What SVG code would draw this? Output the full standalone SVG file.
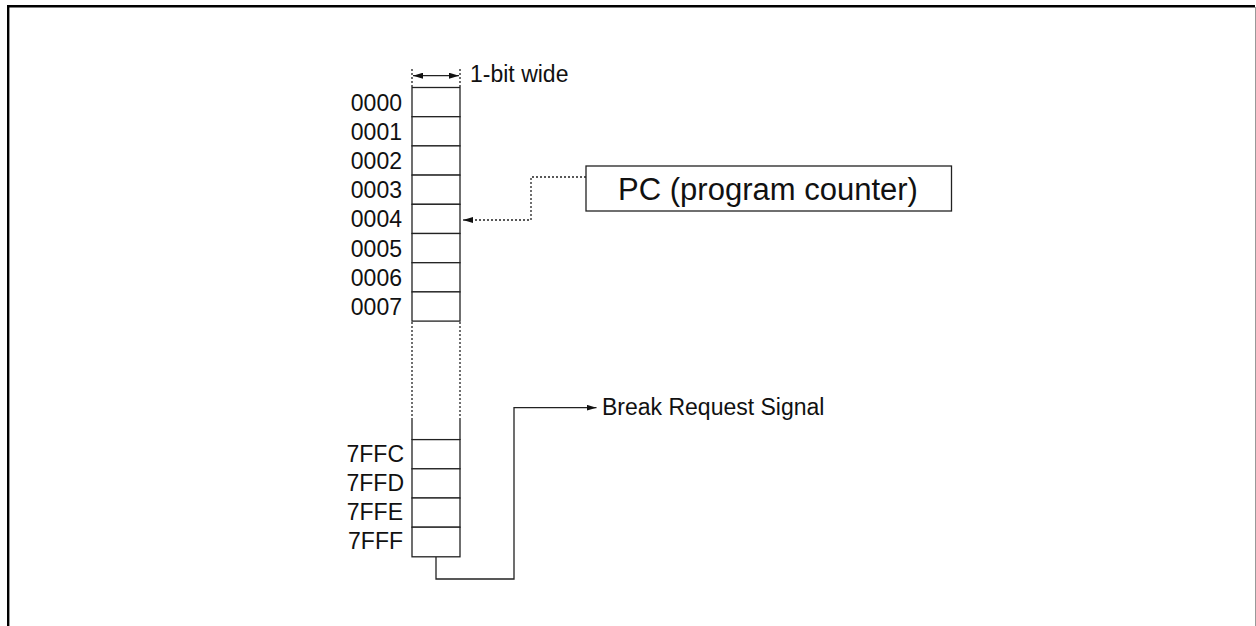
<svg xmlns="http://www.w3.org/2000/svg" width="1256" height="626" viewBox="0 0 1256 626">
<style>
.t{font-family:"Liberation Sans",Arial,sans-serif;fill:#111;}
.lbl{font-size:23px;text-anchor:end;}
.cell{fill:#fff;stroke:#222;stroke-width:1.3;}
.ln{fill:none;stroke:#222;stroke-width:1.3;}
.dot{fill:none;stroke:#222;stroke-width:1.3;stroke-dasharray:2 2;}
</style>
<defs>
<marker id="ah" viewBox="0 0 10 6" refX="10" refY="3" markerWidth="10" markerHeight="6" markerUnits="userSpaceOnUse" orient="auto-start-reverse">
<path d="M0,0 L10,3 L0,6 Z" fill="#111"/>
</marker>
</defs>
<rect width="1256" height="626" fill="#fff"/>
<g id="frame">
<line x1="7" y1="6.2" x2="1255" y2="6.2" stroke="#000" stroke-width="2.4"/>
<line x1="8.2" y1="5" x2="8.2" y2="626" stroke="#000" stroke-width="2.4"/>
<line x1="1255.5" y1="7" x2="1255.5" y2="626" stroke="#999" stroke-width="1"/>
</g>
<g id="memory">
<rect class="cell" x="412" y="87.5" width="48" height="29.2"/>
<rect class="cell" x="412" y="116.7" width="48" height="29.2"/>
<rect class="cell" x="412" y="145.9" width="48" height="29.2"/>
<rect class="cell" x="412" y="175.1" width="48" height="29.2"/>
<rect class="cell" x="412" y="204.3" width="48" height="29.2"/>
<rect class="cell" x="412" y="233.5" width="48" height="29.2"/>
<rect class="cell" x="412" y="262.7" width="48" height="29.2"/>
<rect class="cell" x="412" y="291.9" width="48" height="29.2"/>
<line class="dot" x1="412" y1="322" x2="412" y2="418"/>
<line class="dot" x1="460" y1="322" x2="460" y2="418"/>
<line class="ln" x1="412" y1="418" x2="412" y2="440"/>
<line class="ln" x1="460" y1="418" x2="460" y2="440"/>
<rect class="cell" x="412" y="439.6" width="48" height="29.2"/>
<rect class="cell" x="412" y="468.8" width="48" height="29.2"/>
<rect class="cell" x="412" y="498" width="48" height="29.2"/>
<rect class="cell" x="412" y="527.2" width="48" height="29.6"/>
<text class="t lbl" x="402" y="110.5">0000</text>
<text class="t lbl" x="402" y="139.7">0001</text>
<text class="t lbl" x="402" y="168.9">0002</text>
<text class="t lbl" x="402" y="198.1">0003</text>
<text class="t lbl" x="402" y="227.3">0004</text>
<text class="t lbl" x="402" y="256.5">0005</text>
<text class="t lbl" x="402" y="285.7">0006</text>
<text class="t lbl" x="402" y="314.9">0007</text>
<text class="t lbl" x="404" y="461.5">7FFC</text>
<text class="t lbl" x="404" y="490.7">7FFD</text>
<text class="t lbl" x="403" y="519.9">7FFE</text>
<text class="t lbl" x="403" y="549.1">7FFF</text>
</g>
<g id="width-label">
<line class="dot" x1="412" y1="69" x2="412" y2="87"/>
<line class="dot" x1="460" y1="69" x2="460" y2="87"/>
<line class="ln" x1="413" y1="75.7" x2="459" y2="75.7" marker-start="url(#ah)" marker-end="url(#ah)"/>
<text class="t" x="470" y="81.5" font-size="23">1-bit wide</text>
</g>
<g id="pc">
<rect x="586" y="166" width="365.5" height="45" fill="#fff" stroke="#222" stroke-width="1.3"/>
<text class="t" x="768" y="199.5" font-size="31" text-anchor="middle">PC (program counter)</text>
</g>
<g id="break-signal">
<text class="t" x="602" y="415" font-size="23">Break Request Signal</text>
</g>
<g id="connectors">
<polyline class="dot" points="586,177 531,177 531,220 471,220"/>
<line class="ln" x1="471" y1="220" x2="463" y2="220" marker-end="url(#ah)"/>
<polyline class="ln" points="436,557 436,579 514,579 514,407.7 596.5,407.7" marker-end="url(#ah)"/>
</g>
</svg>
